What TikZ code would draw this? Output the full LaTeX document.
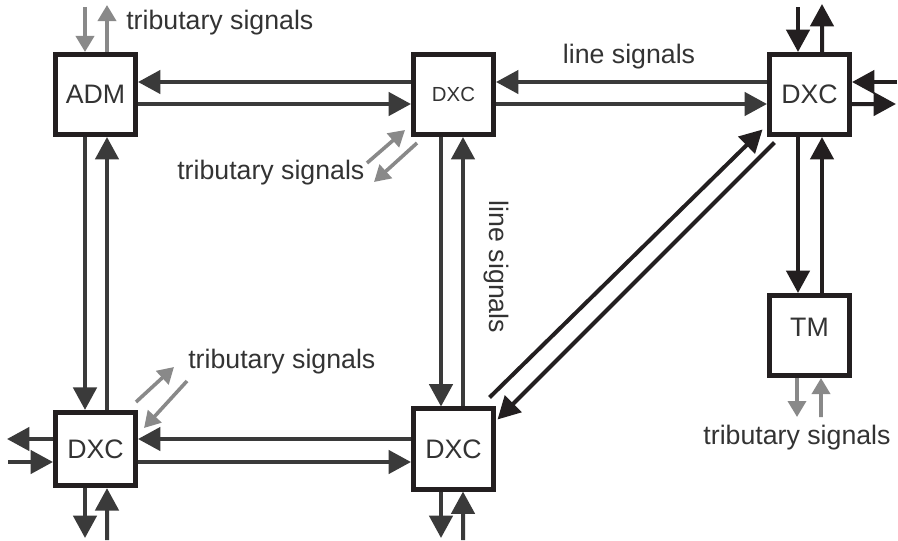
\documentclass[tikz,border=0pt]{standalone}
\usepackage{fontspec}
\setmainfont{Liberation Sans}
\usetikzlibrary{arrows.meta}
\usepackage{xcolor}
\definecolor{boxline}{HTML}{231F20}
\definecolor{sigline}{HTML}{3A3A3A}
\definecolor{tribline}{HTML}{898989}
\definecolor{labeltext}{HTML}{333333}

\begin{document}
\begin{tikzpicture}[
        x=0.025cm, y=-0.025cm,
        every node/.style={text=labeltext, font=\fontsize{19}{22}\selectfont},
        netbox/.style={draw=boxline, line width=0.125cm, rectangle, fill=white,
            minimum width=2cm, minimum height=2cm, inner sep=0pt},
        sig/.style={-{Triangle[length=0.56cm, width=0.58cm]}, draw=sigline, line width=0.1cm},
        sigblk/.style={sig, draw=boxline},
        trib/.style={-{Triangle[length=0.4cm, width=0.45cm]}, draw=tribline, line width=0.09cm},
        lbl/.style={inner sep=0pt}
    ]
        \useasboundingbox (0,0) rectangle (898,540);

        % network elements
        \node[netbox] (adm) at (95.5,94.5) {ADM};
        \node[netbox, font=\fontsize{14.5}{17}\selectfont] (dxca) at (453.5,94.5) {DXC};
        \node[netbox] (dxcb) at (809.5,94.5) {DXC};
        \node[netbox, text depth=0.4cm] (tm) at (809.5,335.5) {TM};
        \node[netbox, minimum height=1.83cm] (dxcc) at (95.5,449) {DXC};
        \node[netbox] (dxcd) at (453.5,449) {DXC};

        % line signals between elements
        \draw[sig] ([shift={(0,-12.5)}]dxca.west) -- ([shift={(0,-12.5)}]adm.east);
        \draw[sig] ([shift={(0,9.5)}]adm.east) -- ([shift={(0,9.5)}]dxca.west);
        \draw[sig] ([shift={(0,-12.5)}]dxcb.west) -- ([shift={(0,-12.5)}]dxca.east);
        \draw[sig] ([shift={(0,9.5)}]dxca.east) -- ([shift={(0,9.5)}]dxcb.west);
        \draw[sig] ([shift={(0,-10)}]dxcd.west) -- ([shift={(0,-10)}]dxcc.east);
        \draw[sig] ([shift={(0,13)}]dxcc.east) -- ([shift={(0,13)}]dxcd.west);

        \draw[sig] ([shift={(-10.5,0)}]adm.south) -- ([shift={(-10.5,0)}]dxcc.north);
        \draw[sig] ([shift={(11.5,0)}]dxcc.north) -- ([shift={(11.5,0)}]adm.south);
        \draw[sig] ([shift={(-12.5,0)}]dxca.south) -- ([shift={(-12.5,0)}]dxcd.north);
        \draw[sig] ([shift={(9.5,0)}]dxcd.north) -- ([shift={(9.5,0)}]dxca.south);
        \draw[sigblk] ([shift={(-11.5,0)}]dxcb.south) -- ([shift={(-11.5,0)}]tm.north);
        \draw[sigblk] ([shift={(12.5,0)}]tm.north) -- ([shift={(12.5,0)}]dxcb.south);

        \draw[sigblk] ([shift={(-6.5,-9)}]dxcd.north east) -- ([shift={(-4.5,-7.5)}]dxcb.south west);
        \draw[sigblk] ([shift={(7.5,5.5)}]dxcb.south west) -- ([shift={(1.5,13)}]dxcd.north east);

        % free ends
        \coordinate (admin) at (85,7);
        \coordinate (admout) at (107,5);
        \coordinate (dxcaout) at (405,130);
        \coordinate (dxcaoutst) at (367,163);
        \coordinate (dxcainst) at (417,143);
        \coordinate (dxcain) at (374,182);
        \coordinate (dxcbnin) at (798,7);
        \coordinate (dxcbnout) at (822,4);
        \coordinate (dxcbein) at (897,82);
        \coordinate (dxcbeout) at (896,104);
        \coordinate (tmout) at (797,417);
        \coordinate (tmin) at (821,417);
        \coordinate (dxccwout) at (7,439);
        \coordinate (dxccwin) at (8,462);
        \coordinate (dxccsout) at (85,538);
        \coordinate (dxccsin) at (107,540);
        \coordinate (dxccoutst) at (136,402);
        \coordinate (dxccout) at (174,367);
        \coordinate (dxccinst) at (187,381);
        \coordinate (dxccin) at (144,428);
        \coordinate (dxcdsout) at (441,538);
        \coordinate (dxcdsin) at (463,540);

        % tributary signals
        \draw[trib] (admin) -- ([shift={(-10.5,0)}]adm.north);
        \draw[trib] ([shift={(11.5,0)}]adm.north) -- (admout);
        \draw[trib] (dxcaoutst) -- (dxcaout);
        \draw[trib] (dxcainst) -- (dxcain);
        \draw[trib] ([shift={(-12.5,0)}]tm.south) -- (tmout);
        \draw[trib] (tmin) -- ([shift={(11.5,0)}]tm.south);
        \draw[trib] (dxccoutst) -- (dxccout);
        \draw[trib] (dxccinst) -- (dxccin);

        % line signals leaving the picture
        \draw[sigblk] (dxcbnin) -- ([shift={(-11.5,0)}]dxcb.north);
        \draw[sigblk] ([shift={(12.5,0)}]dxcb.north) -- (dxcbnout);
        \draw[sigblk] (dxcbein) -- ([shift={(0,-12.5)}]dxcb.east);
        \draw[sigblk] ([shift={(0,9.5)}]dxcb.east) -- (dxcbeout);
        \draw[sig] ([shift={(0,-10)}]dxcc.west) -- (dxccwout);
        \draw[sig] (dxccwin) -- ([shift={(0,13)}]dxcc.west);
        \draw[sig] ([shift={(-10.5,0)}]dxcc.south) -- (dxccsout);
        \draw[sig] (dxccsin) -- ([shift={(11.5,0)}]dxcc.south);
        \draw[sig] ([shift={(-12.5,0)}]dxcd.south) -- (dxcdsout);
        \draw[sig] (dxcdsin) -- ([shift={(9.5,0)}]dxcd.south);

        % labels
        \node[lbl, anchor=west] (tribadm) at (126,23) {tributary signals};
        \node[lbl, anchor=west] (tribdxca) at (177,173) {tributary signals};
        \node[lbl] (linetop) at (629,57) {line signals};
        \node[lbl, rotate=-90] (lineside) at (496,267) {line signals};
        \node[lbl, anchor=west] (tribdxcc) at (188,362) {tributary signals};
        \node[lbl] (tribtm) at (797,438) {tributary signals};
    \end{tikzpicture}
\end{document}
